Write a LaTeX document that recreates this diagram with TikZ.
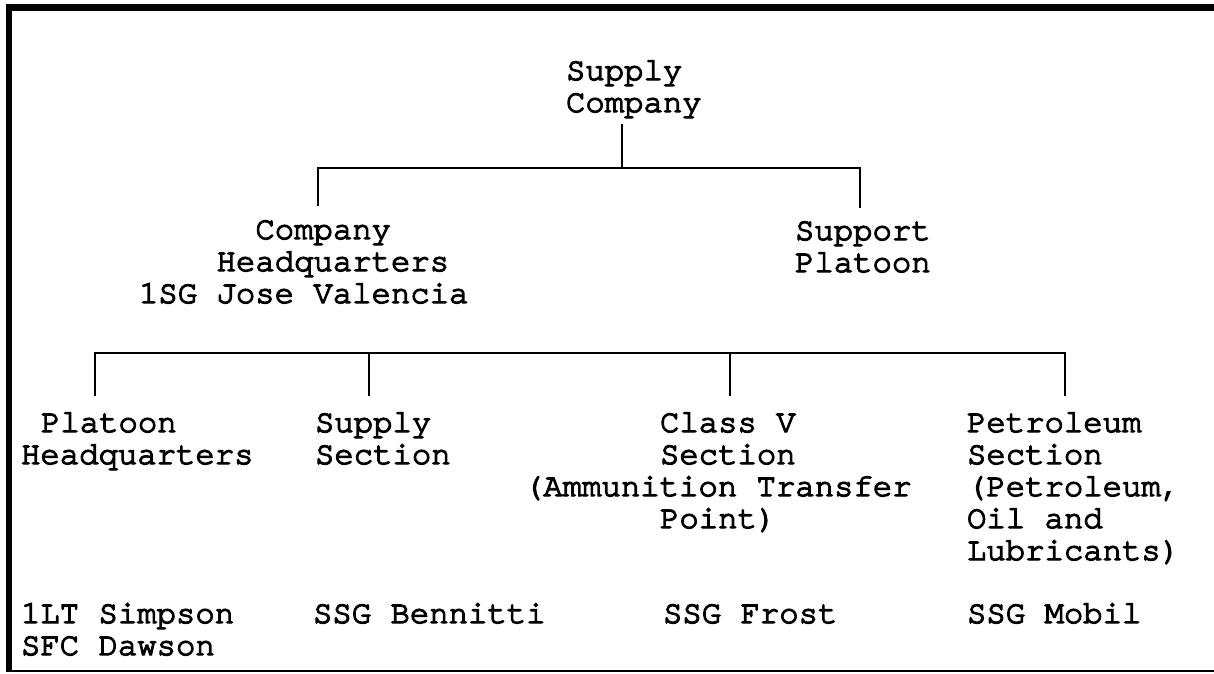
\documentclass[tikz,border=0pt]{standalone}
\usepackage{fontspec}
\newfontfamily\cour[FakeBold=4]{TeX Gyre Cursor}
\begin{document}
\begin{tikzpicture}[x=1pt,y=-1pt,
  lbl/.style={anchor=base west,inner sep=0pt,outer sep=0pt,font=\cour\fontsize{32.3}{32}\selectfont},
  tree/.style={line width=2pt,line cap=rect}]
\useasboundingbox (0,0) rectangle (1214,673);
% frame
\draw[line width=6.5pt] (9,672) -- (9,7.7) -- (1214,7.7);
\draw[line width=1.6pt] (9,671) -- (1214,671);
% level 0
\node[lbl] (sc1) at (566,80) {Supply};
\node[lbl] (sc2) at (566,112) {Company};
% level 1
\node[lbl] (hq1) at (139,239) {\hspace*{116.4pt}Company};
\node[lbl] (hq2) at (139,271) {\hspace*{77.6pt}Headquarters};
\node[lbl] (hq3) at (139,303) {1SG Jose Valencia};
\node[lbl] (sp1) at (795,240) {Support};
\node[lbl] (sp2) at (795,272) {Platoon};
% level 2
\node[lbl] (ph1) at (41,432) {Platoon};
\node[lbl] (ph2) at (21,464) {Headquarters};
\node[lbl] (ss1) at (315,432) {Supply};
\node[lbl] (ss2) at (315,464) {Section};
\node[lbl] (cv1) at (660,432) {Class V};
\node[lbl] (cv2) at (660,464) {Section};
\node[lbl] (cv3) at (524,496) {(Ammunition Transfer};
\node[lbl] (cv4) at (660,528) {Point)};
\node[lbl] (pe1) at (967,432) {Petroleum};
\node[lbl] (pe2) at (967,464) {Section};
\node[lbl] (pe3) at (967,496) {(Petroleum,};
\node[lbl] (pe4) at (967,528) {Oil and};
\node[lbl] (pe5) at (967,560) {Lubricants)};
% names
\node[lbl] (n1a) at (21,623) {1LT Simpson};
\node[lbl] (n1b) at (21,655) {SFC Dawson};
\node[lbl] (n2) at (313,623) {SSG Bennitti};
\node[lbl] (n3) at (663,623) {SSG Frost};
\node[lbl] (n4) at (967,623) {SSG Mobil};
% connector coordinates
\coordinate (scdown) at (622,125);
\coordinate (bar1) at (622,168);
\coordinate (hqtop) at (318,205);
\coordinate (sptop) at (860,207);
\coordinate (phtop) at (95,395);
\coordinate (sstop) at (369,395);
\coordinate (cvtop) at (730,395);
\coordinate (petop) at (1065,395);
\coordinate (bar2) at (95,353);
% connectors
\draw[tree] (scdown) -- (bar1);
\draw[tree] (hqtop) -- (hqtop |- bar1) -- (sptop |- bar1) -- (sptop);
\draw[tree] (phtop) -- (phtop |- bar2) -- (petop |- bar2) -- (petop);
\draw[tree] (sstop) -- (sstop |- bar2);
\draw[tree] (cvtop) -- (cvtop |- bar2);
\end{tikzpicture}
\end{document}
